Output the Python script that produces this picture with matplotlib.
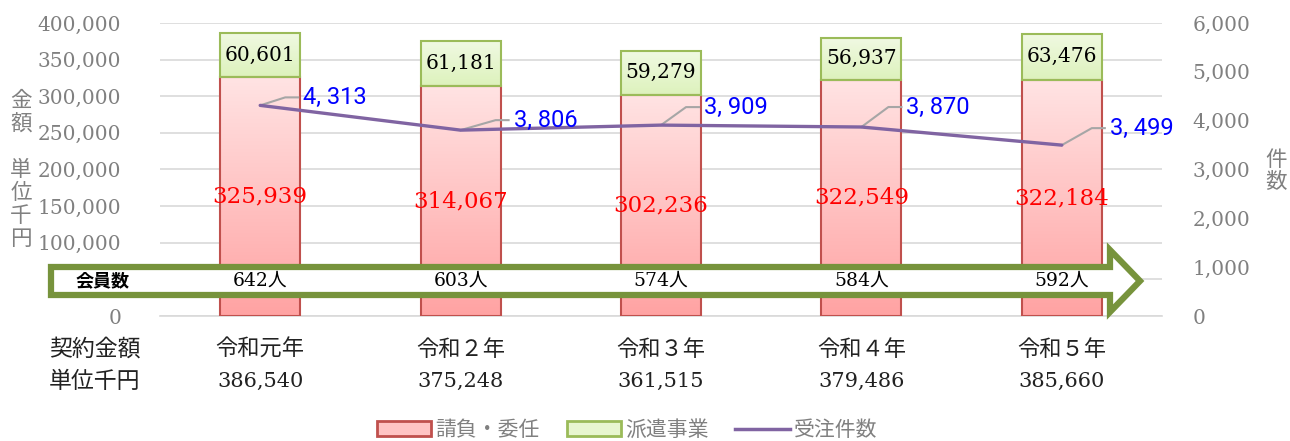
import matplotlib
matplotlib.use("Agg")
import matplotlib.pyplot as plt
import numpy as np
from matplotlib.patches import Rectangle, Polygon, Patch
from matplotlib.lines import Line2D
from matplotlib.transforms import blended_transform_factory

# ---- data ----
categories = ["令和元年", "令和２年", "令和３年", "令和４年", "令和５年"]
contract_vals = [325939, 314067, 302236, 322549, 322184]   # 請負・委任
dispatch_vals = [60601, 61181, 59279, 56937, 63476]        # 派遣事業
orders = [4313, 3806, 3909, 3870, 3499]                    # 受注件数
members = [642, 603, 574, 584, 592]                        # 会員数
left_ticks = [0, 50000, 100000, 150000, 200000, 250000, 300000, 350000, 400000]
right_ticks = [0, 1000, 2000, 3000, 4000, 5000, 6000]

W, H = 1290, 441
fig = plt.figure(figsize=(W / 100, H / 100), dpi=100)
fig.patch.set_facecolor("white")

SERIF = "DejaVu Serif"
JP = "Noto Sans CJK JP"
GRAY = "#808080"

ax = fig.add_axes([160 / W, 1 - 316 / H, 1002 / W, 293 / H])
ax2 = ax.twinx()
ax.set_zorder(1)
ax2.set_zorder(2)
ax.patch.set_visible(False)

x = np.arange(len(categories))
bw = 0.4

def grad_bar(axis, xc, bottom, height, c_top, c_bot, edge):
    x0, x1 = xc - bw / 2, xc + bw / 2
    rect = Rectangle((x0, bottom), bw, height, facecolor="none", edgecolor=edge, lw=1.5, zorder=3)
    axis.add_patch(rect)
    ct = np.array(matplotlib.colors.to_rgb(c_top))
    cb = np.array(matplotlib.colors.to_rgb(c_bot))
    t = np.linspace(0, 1, 64)[:, None]
    img = (ct[None, :] * (1 - t) + cb[None, :] * t)[:, None, :]
    im = axis.imshow(img, extent=(x0, x1, bottom, bottom + height), origin="upper",
                     aspect="auto", zorder=2, interpolation="bilinear")
    im.set_clip_path(rect)

for i in range(len(categories)):
    grad_bar(ax, x[i], 0, contract_vals[i], "#FFE3E3", "#FFA3A3", "#C0504D")
    grad_bar(ax, x[i], contract_vals[i], dispatch_vals[i], "#F0F9E2", "#DDF2BC", "#9BBB59")
    ax.text(x[i], contract_vals[i] / 2, f"{contract_vals[i]:,}", ha="center", va="center",
            color="#FF0000", fontsize=16.5, family=SERIF, zorder=5)
    ax.text(x[i], contract_vals[i] + dispatch_vals[i] / 2, f"{dispatch_vals[i]:,}", ha="center",
            va="center", color="black", fontsize=14.5, family=SERIF, zorder=5)

ax.set_xlim(-0.5, len(categories) - 0.5)
ax.set_ylim(0, 400000)
ax.set_yticks(left_ticks)
ax.set_yticklabels([f"{v:,}" for v in left_ticks], family=SERIF, fontsize=14.5, color=GRAY)
# the 50,000 label is hidden behind the members arrow in the reference
ax.get_yticklabels()[1].set_visible(False)
ax.grid(axis="y", color="#D9D9D9", lw=1.2, zorder=0)
ax.set_axisbelow(True)
ax.set_xticks([])
ax.tick_params(axis="y", length=0, pad=28)
for s in ax.spines.values():
    s.set_visible(False)
ax.spines["bottom"].set_visible(True)
ax.spines["bottom"].set_color("#D9D9D9")
ax.spines["bottom"].set_linewidth(1.2)

# line on right axis
ax2.plot(x, orders, color="#8064A2", lw=2.4, zorder=4, solid_capstyle="round")
ax2.set_ylim(0, 6000)
ax2.set_yticks(right_ticks)
ax2.set_yticklabels([f"{v:,}" for v in right_ticks], family=SERIF, fontsize=14.5, color=GRAY)
ax2.tick_params(axis="y", length=0, pad=22)
for s in ax2.spines.values():
    s.set_visible(False)

# data labels with callout lines (pixel offsets converted to data units)
px_x = (len(categories)) / 1002.0
px_y = 6000 / 293.0
label_off = [(43, 8), (53, 10), (43, 18), (45, 20), (48, 17)]
for i, v in enumerate(orders):
    dx, dy = label_off[i]
    lx = x[i] + dx * px_x
    ly = v + dy * px_y
    ax2.plot([x[i], x[i] + (dx - 18) * px_x, x[i] + (dx - 5) * px_x], [v, ly, ly],
             color="#A6A6A6", lw=1.5, zorder=3)
    ax2.text(lx, ly, f"{v:,}".replace(",", ", "), ha="left", va="center", color="#0000FF",
             fontsize=17, family=["Roboto", "DejaVu Sans"], zorder=5)

# overlay axes in pixel coordinates
ov = fig.add_axes([0, 0, 1, 1], zorder=10)
ov.set_xlim(0, W)
ov.set_ylim(H, 0)
ov.axis("off")
ov.patch.set_visible(False)

# members arrow
arrow = Polygon([(51, 267), (1110, 267), (1110, 250), (1140, 281), (1110, 312),
                 (1110, 295), (51, 295)], closed=True, facecolor="white",
                edgecolor="#77933C", lw=4.5, joinstyle="miter", zorder=1)
ov.add_patch(arrow)
ov.text(103, 281, "会員数", ha="center", va="center", fontsize=13, fontweight="bold",
        family=JP, color="black", zorder=2)
bt = blended_transform_factory(ax.transData, ov.transData)
for i, m in enumerate(members):
    ov.text(x[i], 281, f"{m}人", ha="center", va="center", fontsize=13.5,
            family=[SERIF, JP], color="black", transform=bt, zorder=2)

# category labels and totals
totals = [a + b for a, b in zip(contract_vals, dispatch_vals)]
for i in range(len(categories)):
    ov.text(x[i], 349, categories[i], ha="center", va="center", fontsize=16,
            family=JP, color="#222222", transform=bt)
    ov.text(x[i], 381, f"{totals[i]:,}", ha="center", va="center", fontsize=15,
            family=SERIF, color="#222222", transform=bt)
ov.text(95, 349, "契約金額", ha="center", va="center", fontsize=16.5, family=JP, color="#222222")
ov.text(95, 381, "単位千円", ha="center", va="center", fontsize=16.5, family=JP, color="#222222")

# axis titles (vertical stacked)
ov.text(21, 170, "金\n額\n\n単\n位\n千\n円", ha="center", va="center", fontsize=15.5,
        family=JP, color=GRAY, linespacing=1.05)
ov.text(1276, 171, "件\n数", ha="center", va="center", fontsize=15.5,
        family=JP, color=GRAY, linespacing=1.05)

# legend
handles = [Patch(facecolor="#FFC4C4", edgecolor="#C0504D", lw=2),
           Patch(facecolor="#E8F6D0", edgecolor="#9BBB59", lw=2),
           Line2D([0], [0], color="#8064A2", lw=2.5)]
leg = fig.legend(handles, ["請負・委任", "派遣事業", "受注件数"], loc="center",
                 bbox_to_anchor=(627 / W, 1 - 430 / H), ncol=3, frameon=False,
                 prop={"family": JP, "size": 15}, handlelength=2.6, handleheight=0.7,
                 handletextpad=0.2, columnspacing=1.3)
for t in leg.get_texts():
    t.set_color(GRAY)

fig.savefig("out.png", dpi=100)
